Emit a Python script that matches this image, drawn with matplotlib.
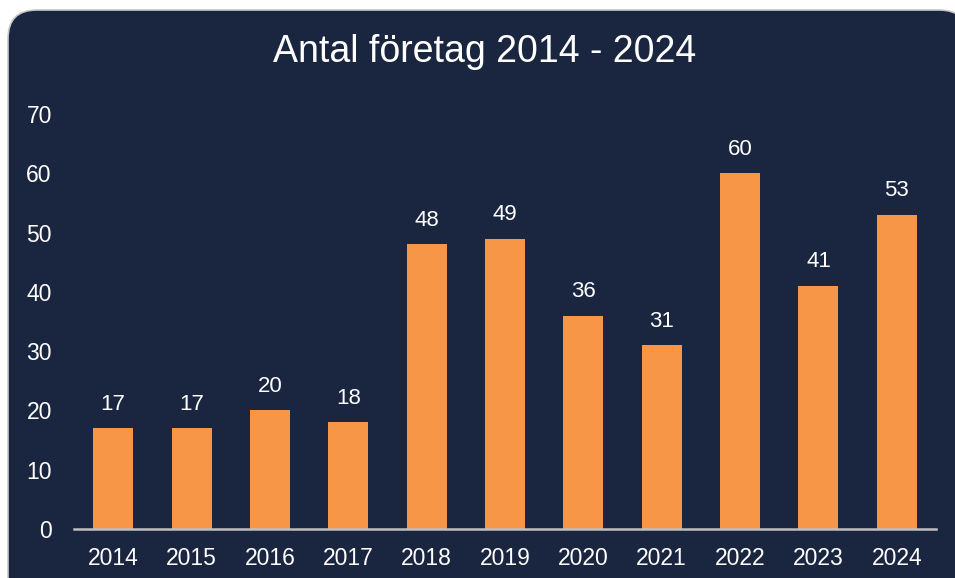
import matplotlib.pyplot as plt
from matplotlib.patches import FancyBboxPatch

years = ['2014', '2015', '2016', '2017', '2018', '2019', '2020', '2021', '2022', '2023', '2024']
counts = [17, 17, 20, 18, 48, 49, 36, 31, 60, 41, 53]

plt.rcParams['font.family'] = ['Liberation Sans', 'DejaVu Sans']

W, H = 955, 578
fig = plt.figure(figsize=(W / 100, H / 100), dpi=100)
fig.patch.set_facecolor('white')

# rounded dark panel behind the chart
bg = FancyBboxPatch((8 / W, -0.1), 960 / W, (H - 10) / H + 0.1,
                    boxstyle='round,pad=0,rounding_size=0.03',
                    transform=fig.transFigure, facecolor='#1a2540',
                    edgecolor='#c8c8c8', linewidth=1.2, mutation_aspect=W / H,
                    zorder=-5)
fig.patches.append(bg)

ax = fig.add_axes([74 / W, 1 - 529 / H, (936 - 74) / W, (529 - 114) / H])
ax.set_facecolor('none')
ax.set_zorder(2)

x = range(len(years))
bars = ax.bar(x, counts, width=0.51, color='#f79646')
for b, v in zip(bars, counts):
    ax.text(b.get_x() + b.get_width() / 2, v + 2.3, str(v), ha='center', va='bottom',
            color='white', fontsize=16)

ax.set_xlim(-0.5, len(years) - 0.5)
ax.set_ylim(0, 70)
ax.set_yticks(range(0, 71, 10))
ax.set_xticks(list(x))
ax.set_xticklabels(years)
ax.tick_params(axis='both', length=0, colors='white', labelsize=16.5)
ax.tick_params(axis='y', pad=16)
ax.tick_params(axis='x', pad=13)

for s in ['top', 'right', 'left']:
    ax.spines[s].set_visible(False)
ax.spines['bottom'].set_color('#bfbfbf')
ax.spines['bottom'].set_linewidth(1.8)

fig.text(485 / W, 1 - 52 / H, 'Antal företag 2014 - 2024', ha='center', va='center',
         color='white', fontsize=27, zorder=3)

fig.savefig('out.png', dpi=100)
